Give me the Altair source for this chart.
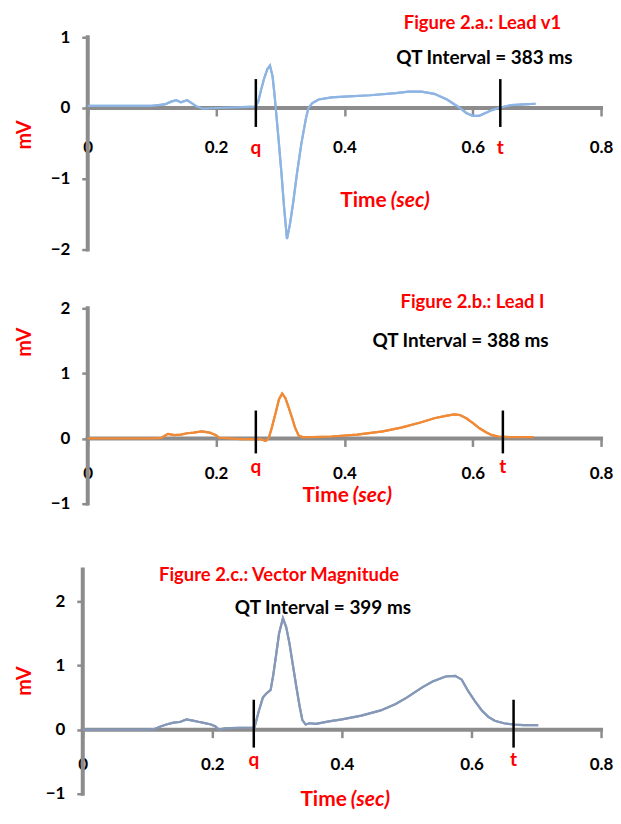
import altair as alt
import pandas as pd

# ---------------- data ----------------
# Panel a: Lead v1
t_v1 = [0.0, 0.05, 0.10, 0.12, 0.13, 0.138, 0.145, 0.155, 0.162, 0.17, 0.18, 0.20, 0.23, 0.262,
        0.266, 0.27, 0.275, 0.28, 0.284, 0.288, 0.291, 0.293, 0.297, 0.302, 0.306, 0.3105,
        0.315, 0.32, 0.326, 0.333, 0.34, 0.344, 0.35, 0.36, 0.38, 0.40, 0.44, 0.48, 0.50, 0.52,
        0.54, 0.56, 0.57, 0.58, 0.59, 0.60, 0.61, 0.62, 0.63, 0.64, 0.66, 0.68, 0.698]
mv_v1 = [0.03, 0.03, 0.03, 0.05, 0.09, 0.11, 0.08, 0.11, 0.07, 0.02, -0.01, 0.0, 0.01, 0.02,
         0.1, 0.25, 0.42, 0.55, 0.6, 0.45, 0.2, 0.0, -0.4, -0.93, -1.4, -1.85,
         -1.65, -1.35, -0.93, -0.5, -0.15, 0.0, 0.07, 0.12, 0.15, 0.16, 0.18, 0.21, 0.23, 0.23,
         0.2, 0.12, 0.06, 0.0, -0.07, -0.11, -0.11, -0.07, -0.03, 0.0, 0.04, 0.05, 0.06]

# Panel b: Lead I
t_l1 = [0.0, 0.05, 0.10, 0.115, 0.125, 0.135, 0.145, 0.155, 0.165, 0.178, 0.19, 0.20, 0.205,
        0.22, 0.24, 0.26, 0.27, 0.277, 0.282, 0.287, 0.293, 0.298, 0.303, 0.308, 0.313, 0.318,
        0.323, 0.329, 0.335, 0.35, 0.38, 0.42, 0.46, 0.49, 0.52, 0.54, 0.56, 0.571, 0.58, 0.59,
        0.60, 0.61, 0.62, 0.63, 0.64, 0.66, 0.68, 0.695]
mv_l1 = [0.0, 0.0, 0.0, 0.01, 0.07, 0.05, 0.06, 0.08, 0.09, 0.11, 0.09, 0.05, 0.01,
         0.0, -0.01, -0.01, -0.01, -0.04, 0.0, 0.17, 0.4, 0.6, 0.69, 0.62, 0.48, 0.33,
         0.17, 0.04, 0.02, 0.02, 0.03, 0.06, 0.11, 0.17, 0.25, 0.31, 0.35, 0.37, 0.36, 0.31,
         0.24, 0.16, 0.1, 0.05, 0.03, 0.02, 0.02, 0.02]

# Panel c: Vector magnitude
t_vm = [0.0, 0.05, 0.10, 0.111, 0.12, 0.129, 0.14, 0.15, 0.16, 0.17, 0.18, 0.185, 0.198, 0.205,
        0.21, 0.22, 0.24, 0.265, 0.272, 0.278, 0.283, 0.29, 0.294, 0.298, 0.303, 0.309, 0.314,
        0.319, 0.324, 0.33, 0.335, 0.339, 0.344, 0.35, 0.36, 0.38, 0.40, 0.43, 0.46, 0.483,
        0.50, 0.524, 0.54, 0.56, 0.575, 0.585, 0.595, 0.605, 0.616, 0.626, 0.636, 0.65, 0.665,
        0.68, 0.703]
mv_vm = [0.0, 0.0, 0.0, 0.01, 0.05, 0.08, 0.11, 0.12, 0.16, 0.14, 0.12, 0.11, 0.08, 0.05,
         0.0, 0.02, 0.03, 0.03, 0.3, 0.5, 0.56, 0.62, 0.85, 1.13, 1.5, 1.74, 1.6,
         1.35, 1.03, 0.65, 0.35, 0.15, 0.08, 0.1, 0.09, 0.13, 0.16, 0.22, 0.3, 0.4,
         0.5, 0.66, 0.75, 0.83, 0.84, 0.78, 0.6, 0.45, 0.3, 0.2, 0.14, 0.1, 0.08,
         0.07, 0.07]

# q / t marker times (sec)
qt_v1 = [0.262, 0.643]
qt_l1 = [0.262, 0.647]
qt_vm = [0.264, 0.665]
marker_labels = ["q", "t"]

x_ticks = [0, 0.2, 0.4, 0.6, 0.8]
x_range = [0, 0.8]

titles = ["Figure 2.a.: Lead v1", "Figure 2.b.: Lead I", "Figure 2.c.: Vector Magnitude"]
qt_texts = ["QT Interval = 383 ms", "QT Interval = 388 ms", "QT Interval = 399 ms"]

FONT = "Lato"
RED = "#FF0000"
GRAY = "#8C8C8C"
one = pd.DataFrame({"a": [0]})


def text_layer(txt, x, y, color, size=19, style="normal", align="center", angle=0):
    kw = dict(font=FONT, fontSize=size, fontWeight="bold", color=color, align=align,
              baseline="middle", fontStyle=style)
    if angle:
        kw["angle"] = angle
    return alt.Chart(one).mark_text(**kw).encode(
        x=alt.value(x), y=alt.value(y), text=alt.value(txt))


def panel(times, values, color, ydom, yaxis_range, yticks, lead, h, qt, title, title_xy,
          qt_text, qt_xy, mv_xy, time_xy, lab_below, mark_up, mark_down, qlab_below):
    w = 520
    span = 0.8 * w / (w - lead)
    xmin = 0.8 - span
    zero = h * ydom[1] / (ydom[1] - ydom[0])
    df = pd.DataFrame({"t": times, "mv": values})
    xs = alt.Scale(domain=[xmin, 0.8], nice=False, zero=False)
    ys = alt.Scale(domain=ydom, nice=False, zero=False)
    xax = alt.Axis(values=x_ticks, format="~g", offset=-(h - zero), domain=False,
                   tickColor=GRAY, tickWidth=2.5, tickSize=8,
                   labelPadding=lab_below - 8 - 9, labelFont=FONT, labelFontSize=17,
                   labelFontWeight="bold", labelColor="black", labelFlush=False,
                   grid=False, title=None)
    yax = alt.Axis(values=yticks, format="d", domain=False, offset=-lead,
                   tickColor=GRAY, tickWidth=2.5, tickSize=6, labelPadding=12,
                   labelFont=FONT, labelFontSize=17, labelFontWeight="bold",
                   labelColor="black", grid=False, title=None)
    xaxis_line = alt.Chart(pd.DataFrame({"x0": [x_range[0]], "x1": [x_range[1]], "y": [0]})).mark_rule(
        color=GRAY, strokeWidth=4, strokeCap="square").encode(
        x=alt.X("x0:Q", scale=xs), x2="x1:Q", y=alt.Y("y:Q", scale=ys))
    yaxis_line = alt.Chart(pd.DataFrame({"x": [0], "y0": [yaxis_range[0]], "y1": [yaxis_range[1]]})).mark_rule(
        color=GRAY, strokeWidth=4, strokeCap="square").encode(
        x=alt.X("x:Q", scale=xs), y=alt.Y("y0:Q", scale=ys), y2="y1:Q")
    line = alt.Chart(df).mark_line(color=color, strokeWidth=2.2).encode(
        x=alt.X("t:Q", scale=xs, axis=xax),
        y=alt.Y("mv:Q", scale=ys, axis=yax))
    mdf = pd.DataFrame({"t": qt, "lab": marker_labels})
    rules = alt.Chart(mdf).mark_rule(color="black", strokeWidth=2.5).encode(
        x=alt.X("t:Q", scale=xs), y=alt.value(zero - mark_up), y2=alt.value(zero + mark_down))
    labs = alt.Chart(mdf).mark_text(font=FONT, fontSize=19, fontWeight="bold", color=RED,
                                    baseline="middle").encode(
        x=alt.X("t:Q", scale=xs), y=alt.value(zero + qlab_below), text="lab:N")
    layers = [line, xaxis_line, yaxis_line, line, rules, labs,
              text_layer(title, title_xy[0], title_xy[1], RED, size=18.5),
              text_layer(qt_text, qt_xy[0], qt_xy[1], "black"),
              text_layer("mV", mv_xy[0], mv_xy[1], RED, size=20, angle=270),
              text_layer("Time", time_xy[0] - 2, time_xy[1], RED, size=21, align="right"),
              text_layer("(sec)", time_xy[0] + 2, time_xy[1], RED, size=21, style="italic",
                         align="left")]
    return alt.layer(*layers).properties(width=w, height=h)


p1 = panel(t_v1, mv_v1, "#8DB4E2", [-2, 1], [-2, 1], [-2, -1, 0, 1], 5, 213, qt_v1,
           titles[0], (401, -14), qt_texts[0], (403, 21), (-58, 98), (307, 164),
           41, 29, 19, 40)
p2 = panel(t_l1, mv_l1, "#F08A36", [-1.11, 2], [-1, 2], [-1, 0, 1, 2], 5, 203, qt_l1,
           titles[1], (391, -6), qt_texts[1], (379, 33), (-58, 34), (269, 188),
           36, 28, 15, 29)
p3 = panel(t_vm, mv_vm, "#8598B8", [-1, 2.5], [-1, 2.5], [-1, 0, 1, 2], 0, 225, qt_vm,
           titles[2], (197, 6), qt_texts[2], (241, 39), (-58, 112), (267, 231),
           36, 30, 18, 30)

chart = alt.vconcat(p1, p2, p3, bounds="flush", spacing=59).properties(
    padding={"left": 7, "top": 5, "right": 0, "bottom": 0}
).configure_view(stroke=None)

chart.save("out.html", embed_options={"renderer": "svg", "actions": False})
